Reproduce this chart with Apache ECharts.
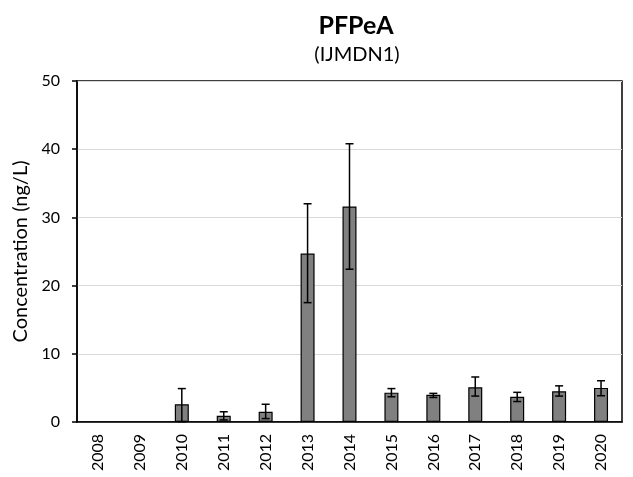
<!DOCTYPE html>
<html><head><meta charset="utf-8">
<script src="https://cdn.jsdelivr.net/npm/echarts@6/dist/echarts.min.js"></script>
<style>html,body{margin:0;padding:0;background:#fff}#c{width:633px;height:477px}</style>
</head><body><div id="c"></div>
<script>
const years = ['2008','2009','2010','2011','2012','2013','2014','2015','2016','2017','2018','2019','2020'];
const values = [null, null, 2.6, 0.9, 1.5, 24.7, 31.6, 4.3, 4.0, 5.1, 3.7, 4.5, 5.0];
const errLow = [null, null, 0.05, 0.3, 0.5, 17.5, 22.4, 3.7, 3.6, 3.8, 3.0, 3.8, 3.85];
const errHigh = [null, null, 4.9, 1.5, 2.6, 32.0, 40.8, 4.9, 4.2, 6.6, 4.35, 5.3, 6.05];
const yTicks = [0, 10, 20, 30, 40, 50];

const FONT = 'Lato, "Open Sans", sans-serif';
const chart = echarts.init(document.getElementById('c'));
const errData = years.map((y, i) => errLow[i] == null ? null : [i, errLow[i], errHigh[i]]).filter(d => d);
chart.setOption({
  animation: false,
  title: [
    {text: 'PFPeA', left: 351, textAlign: 'center', top: 8,
     textStyle: {fontFamily: FONT, fontWeight: 'bold', fontSize: 25, color: '#000'}},
    {text: '(IJMDN1)', left: 352, textAlign: 'center', top: 40,
     textStyle: {fontFamily: FONT, fontWeight: 'normal', fontSize: 20, color: '#000'}}
  ],
  grid: {left: 77, right: 11, top: 81, bottom: 55, show: true, borderColor: '#000', borderWidth: 1.5, backgroundColor: 'transparent'},
  xAxis: {
    type: 'category', data: years,
    axisLine: {lineStyle: {color: '#000', width: 1.5}},
    axisTick: {alignWithLabel: true, length: 5, lineStyle: {color: '#000', width: 1.5}},
    axisLabel: {rotate: 90, fontFamily: FONT, fontSize: 16, color: '#000', margin: 12}
  },
  yAxis: {
    type: 'value', min: yTicks[0], max: yTicks[yTicks.length-1], interval: 10,
    name: 'Concentration (ng/L)', nameLocation: 'middle', nameGap: 43,
    nameTextStyle: {fontFamily: FONT, fontSize: 20, color: '#000'},
    axisLine: {show: true, lineStyle: {color: '#000', width: 1.5}},
    axisTick: {show: true, length: 5, lineStyle: {color: '#000', width: 1.5}},
    axisLabel: {fontFamily: FONT, fontSize: 16, color: '#000', margin: 17},
    splitLine: {lineStyle: {color: '#d9d9d9', width: 1.2}}
  },
  series: [
    {type: 'bar', data: values, barWidth: 14,
     itemStyle: {color: '#808080', borderColor: '#000', borderWidth: 1.2}},
    {type: 'custom', data: errData, z: 5,
     renderItem: function(params, api) {
       const x = api.value(0);
       const lo = api.coord([x, api.value(1)]);
       const hi = api.coord([x, api.value(2)]);
       const w = 4;
       const st = {stroke: '#000', lineWidth: 1.5};
       return {type: 'group', children: [
         {type: 'line', shape: {x1: lo[0], y1: lo[1], x2: hi[0], y2: hi[1]}, style: st},
         {type: 'line', shape: {x1: lo[0]-w, y1: lo[1], x2: lo[0]+w, y2: lo[1]}, style: st},
         {type: 'line', shape: {x1: hi[0]-w, y1: hi[1], x2: hi[0]+w, y2: hi[1]}, style: st}
       ]};
     }}
  ]
});
</script></body></html>
